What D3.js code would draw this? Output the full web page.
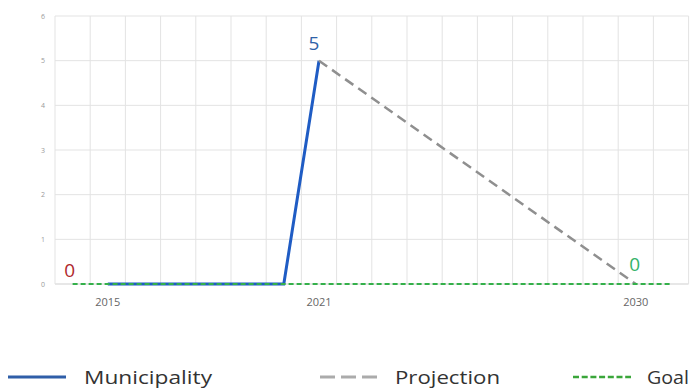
<!DOCTYPE html>
<html><head><meta charset="utf-8">
<script src="https://cdn.jsdelivr.net/npm/d3@7"></script>
<style>html,body{margin:0;padding:0;background:#fff;}svg{display:block;}</style>
</head><body>
<svg id="c" width="696" height="389"></svg>
<script>
const years = [2014,2015,2016,2017,2018,2019,2020,2021,2022,2023,2024,2025,2026,2027,2028,2029,2030,2031];
const xTickLabels = [2015, 2021, 2030];
const yTicks = [0,1,2,3,4,5,6];
const municipalityYears = [2015,2016,2017,2018,2019,2020,2021];
const municipalityValues = [0,0,0,0,0,0,5];
const projectionYears = [2021, 2030];
const projectionValues = [5, 0];
const goalYears = [2014, 2031];
const goalValues = [0, 0];
const valueLabels = [
  {year: 2014, value: 0, text: "0", color: "#b0282c", dx: -3, dy: -7},
  {year: 2021, value: 5, text: "5", color: "#2e62a8", dx: -5, dy: -11},
  {year: 2030, value: 0, text: "0", color: "#35b36a", dx: -1, dy: -13}
];
const legendItems = ["Municipality", "Projection", "Goal"];

const svg = d3.select("#c");
const x = d3.scaleBand().domain(years).range([55, 688.6]).padding(0);
const y = d3.scaleLinear().domain([0, 6]).range([284, 16]);
const cx = d => x(d) + x.bandwidth() / 2;

// grid
const g = svg.append("g");
g.selectAll(".hg").data(yTicks).enter().append("line")
  .attr("x1", 55).attr("x2", 688.6)
  .attr("y1", d => y(d)).attr("y2", d => y(d))
  .attr("stroke", d => d === 0 ? "#cfcfcf" : "#e3e3e3").attr("stroke-width", 1);
const bounds = years.map(d => x(d)).concat([x(years[years.length-1]) + x.bandwidth()]);
g.selectAll(".vg").data(bounds).enter().append("line")
  .attr("x1", d => d).attr("x2", d => d)
  .attr("y1", y(6)).attr("y2", y(0))
  .attr("stroke", "#e3e3e3").attr("stroke-width", 1);

// y labels
svg.append("g").selectAll("text").data(yTicks).enter().append("text")
  .attr("x", 45).attr("y", d => y(d) + 2.5)
  .attr("text-anchor", "end")
  .attr("font-family", "Open Sans, sans-serif").attr("font-size", 7).attr("fill", "#9a9a9a")
  .text(d => d);

// x labels
svg.append("g").selectAll("text").data(xTickLabels).enter().append("text")
  .attr("x", d => cx(d)).attr("y", 306)
  .attr("text-anchor", "middle")
  .attr("font-family", "Open Sans, sans-serif").attr("font-size", 11).attr("fill", "#666")
  .text(d => d);

const line = d3.line().x(d => cx(d[0])).y(d => y(d[1]));

// municipality
svg.append("path")
  .datum(municipalityYears.map((yr, i) => [yr, municipalityValues[i]]))
  .attr("d", line).attr("fill", "none")
  .attr("stroke", "#1f5cc4").attr("stroke-width", 3);

// projection
svg.append("path")
  .datum(projectionYears.map((yr, i) => [yr, projectionValues[i]]))
  .attr("d", line).attr("fill", "none")
  .attr("stroke", "#8f8f8f").attr("stroke-width", 2.5).attr("stroke-dasharray", "10,6");

// goal
svg.append("path")
  .datum(goalYears.map((yr, i) => [yr, goalValues[i]]))
  .attr("d", line).attr("fill", "none")
  .attr("stroke", "#34b04a").attr("stroke-width", 2.2).attr("stroke-dasharray", "5,3");

// value labels
svg.append("g").selectAll("text").data(valueLabels).enter().append("text")
  .attr("x", d => cx(d.year) + d.dx).attr("y", d => y(d.value) + d.dy)
  .attr("text-anchor", "middle")
  .attr("font-family", "Open Sans, sans-serif").attr("font-size", 19)
  .attr("fill", d => d.color)
  .text(d => d.text);

// legend
const lg = svg.append("g");
const ly = 377;
lg.append("line").attr("x1", 8).attr("x2", 66).attr("y1", ly).attr("y2", ly)
  .attr("stroke", "#2f5ea8").attr("stroke-width", 3);
lg.append("line").attr("x1", 320).attr("x2", 377).attr("y1", ly).attr("y2", ly)
  .attr("stroke", "#ababab").attr("stroke-width", 3).attr("stroke-dasharray", "15,6");
lg.append("line").attr("x1", 573).attr("x2", 631).attr("y1", ly).attr("y2", ly)
  .attr("stroke", "#3aa63a").attr("stroke-width", 2.5).attr("stroke-dasharray", "6,2.7");
const lpos = [{x: 84, w: 128}, {x: 395, w: 105}, {x: 647, w: 42}];
lg.selectAll("text").data(legendItems).enter().append("text")
  .attr("x", (d, i) => lpos[i].x).attr("y", 384)
  .attr("textLength", (d, i) => lpos[i].w).attr("lengthAdjust", "spacingAndGlyphs")
  .attr("font-family", "Open Sans, sans-serif").attr("font-size", 19).attr("fill", "#333")
  .text(d => d);
</script>
</body></html>
